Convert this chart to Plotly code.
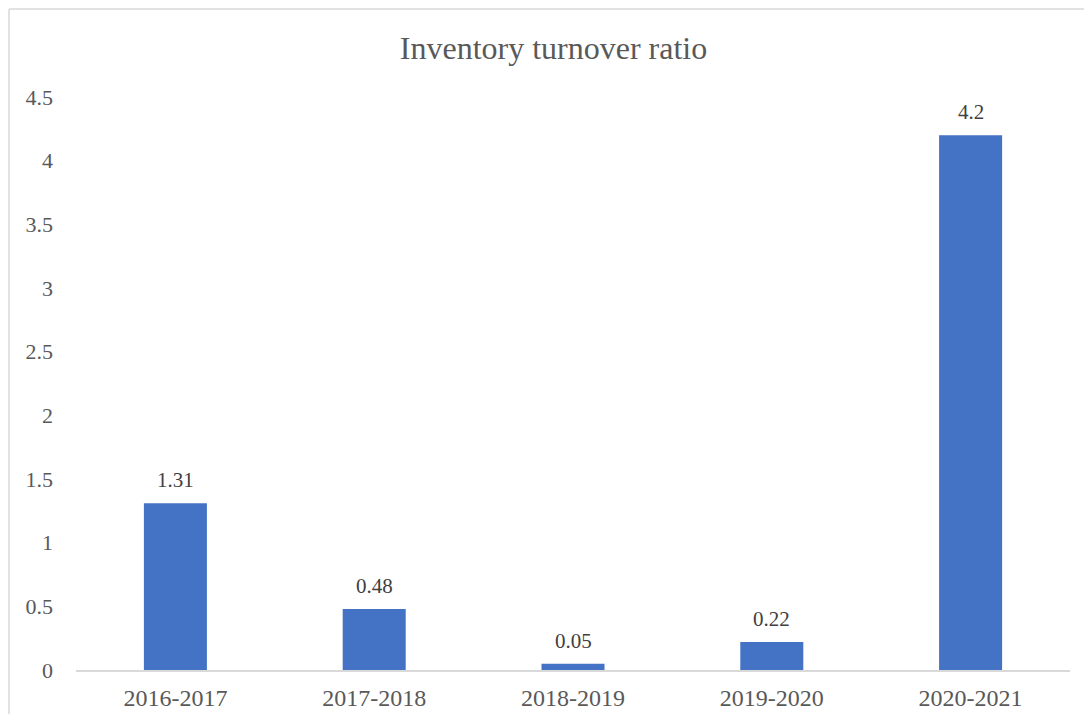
import plotly.graph_objects as go

categories = ["2016-2017", "2017-2018", "2018-2019", "2019-2020", "2020-2021"]
values = [1.31, 0.48, 0.05, 0.22, 4.2]
value_labels = ["1.31", "0.48", "0.05", "0.22", "4.2"]
y_ticks = [0, 0.5, 1, 1.5, 2, 2.5, 3, 3.5, 4, 4.5]
y_tick_labels = ["0", "0.5", "1", "1.5", "2", "2.5", "3", "3.5", "4", "4.5"]

FONT = "Times New Roman, Liberation Serif, serif"
GRAY = "#595959"
DARK = "#404040"

W, H = 1076, 706
ML, MR, MT, MB = 68, 14, 89, 44
PW, PH = W - ML - MR, H - MT - MB

fig = go.Figure(go.Bar(
    x=categories, y=values,
    marker=dict(color="#4472C4", line=dict(width=0)),
    hoverinfo="skip",
))

for c, v, t in zip(categories, values, value_labels):
    fig.add_annotation(x=c, y=v, text=t, showarrow=False, yanchor="bottom",
                       yshift=9, font=dict(family=FONT, size=21, color=DARK))

# chart-area border (left and top edges visible)
bx = (1 - ML) / PW
by = (PH + MT - 1) / PH
fig.add_shape(type="line", xref="paper", yref="paper", x0=bx, x1=bx, y0=by, y1=-0.2,
              line=dict(color="#d9d9d9", width=1.5), layer="below")
fig.add_shape(type="line", xref="paper", yref="paper", x0=bx, x1=1.2, y0=by, y1=by,
              line=dict(color="#d9d9d9", width=1.5), layer="below")

fig.update_layout(
    width=W, height=H,
    margin=dict(l=ML, r=MR, t=MT, b=MB, autoexpand=False),
    paper_bgcolor="white", plot_bgcolor="white",
    bargap=0.683,
    showlegend=False,
    title=dict(text="Inventory turnover ratio", x=545.5 / W, xanchor="center",
               y=1 - 40 / H, yanchor="middle", yref="container",
               font=dict(family=FONT, size=32, color=GRAY)),
    font=dict(family=FONT, color=GRAY),
)
fig.update_xaxes(showline=True, linecolor="#d9d9d9", linewidth=1.5, automargin=False,
                 showgrid=False, ticks="", tickfont=dict(family=FONT, size=24, color=GRAY),
                 ticklabelstandoff=5, zeroline=False)
fig.update_yaxes(range=[0, 4.5], tickvals=y_ticks, ticktext=y_tick_labels, automargin=False,
                 showgrid=False, zeroline=False, showline=False, ticks="",
                 tickfont=dict(family=FONT, size=22, color=GRAY), ticklabelstandoff=22)

fig.write_html("out.html")
